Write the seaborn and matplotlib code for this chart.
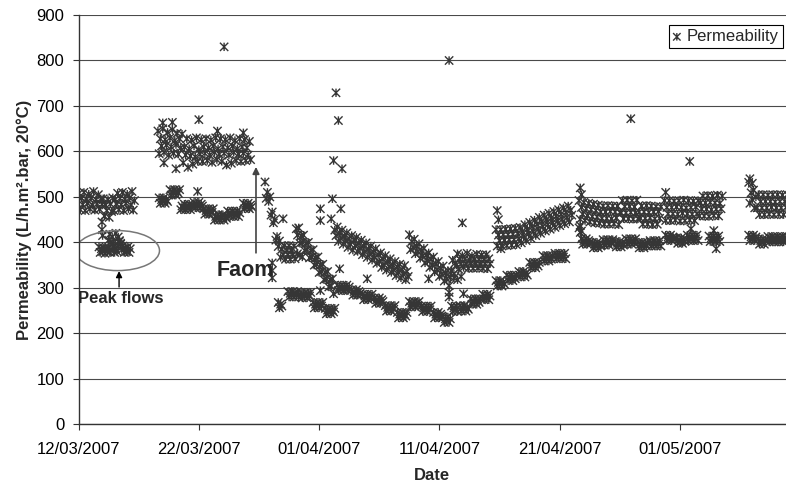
import numpy as np
import pandas as pd
import matplotlib
matplotlib.use("Agg")
import matplotlib.pyplot as plt
import matplotlib.dates as mdates
from matplotlib.path import Path
from matplotlib.markers import MarkerStyle
from matplotlib.patches import Ellipse
import seaborn as sns

# ---------------------------------------------------------------------------
# Permeability log (L/h.m2.bar, corrected to 20 °C)
# Continuous runs are logged every 2.4 h; NaN marks a missing reading.
# ---------------------------------------------------------------------------
START = pd.Timestamp("2007-03-12")
STEP_HOURS = 2.4

nan = np.nan

# main operating band
run_a = [508, 472, 497, 483, 510, 470, 495, 486, 506, 474, 498, 482, 512, 471, 494,
         485, 505, 473, 496, 484,
         496, 458, 482, 470, 494, 455, 485, 468, 498,
         470, 494, 485, 508, 472, 497, 483, 510, 470, 495, 486, 506, 474, 498, 482,
         512, 471, 492]
run_b = [645, 595, 628, 612, 650, 598, 626, 614, 642, 592, 630, 610, 648, 596, 624,
         615, 640, 594, 628, 608, 638,
         575, 610, 592, 628, 565, 606, 590, 625, 572, 612, 588, 630, 578, 604,
         594, 626, 578, 610, 596, 628, 580, 608, 592, 625, 576, 612, 598, 630, 582,
         606, 594, 628, 578, 610, 596, 626, 570, 608, 592, 630, 574, 612, 598, 624,
         580, 606, 594, 628, 578, 610, 596, 626, 580, 608, 592, 622, 582]
run_c = [533, 497, 510, 490, 500, 460, 467, 443, 450, 405, 413, 391, 403, 367, 385,
         373, 393, 363, 383, 373, 393, 363, 383, 373, 392, 364,
         430, 416, 432, 398, 414, 400, 416, 382, 398, 384, 400, 366, 382, 368, 384,
         350, 366, 352, 368, 334, 350, 336, 352, 318, 334, 320, 336, 302, 318, 304,
         320, 287,
         427, 415, 434, 402, 421, 409, 427, 396, 414, 403, 421, 389, 408, 396, 415,
         383, 405, 393, 411, 380, 398, 387, 405, 373, 392, 380, 399, 367, 385, 374,
         392, 361, 379, 367, 386, 354, 373, 358, 377,
         345, 364, 351, 371, 339, 358, 347, 364, 334, 351, 340, 358, 327, 346, 334,
         352, 322, 340, 330, 349, 318, 336, 325,
         417, 384, 402, 389, 407, 375, 392, 380, 397, 365, 382, 370, 387, 355, 372,
         360, 377, 345, 363, 350, 368, 335, 353, 340, 358, 325, 343, 330, 348, 315,
         333, 320, 338, 305, 323,
         337, 361, 331, 355, 350, 375, 341, 363, 353, 371, 345, 363, 353, 376, 343,
         362, 354, 370, 343, 363, 353, 374, 344, 363, 352, 372, 343, 363, 353, 373,
         342, 364, 353]
run_d = [428, 392, 416, 404, 428, 392, 417, 405, 429, 393, 417, 406, 430, 394, 418,
         406, 431, 395, 419,
         408, 433, 399, 424, 413, 439, 404, 429, 419, 444, 409, 435, 424, 449, 415,
         440, 429, 455, 420,
         446, 435, 460, 425, 450, 439, 464, 429, 454, 443, 468, 433, 458, 447, 472,
         437, 462, 451, 476, 441, 466, 455, 480, 445, 471, 460]
run_e1 = [492, 451, 477, 462, 488, 448, 474, 459, 486, 445, 472, 457, 484, 443, 470,
          456, 482, 442,
          467, 453, 480, 440, 467, 453, 481, 440, 468, 452, 480, 441, 467, 454, 480,
          439, 466,
          465, 492, 452, 479, 465, 493, 452, 479, 466, 492, 451, 478, 465, 493, 452,
          467, 453, 480, 440, 467, 453, 481, 440, 466, 454, 480, 439, 467, 452, 479,
          440, 468, 453, 478]
run_e2 = [492, 448, 477, 463, 492, 448, 477, 463, 491, 449, 478, 462, 492, 447, 477,
          464, 493, 448, 476, 463, 492, 449, 477, 462, 491, 448, 478, 463, 492,
          458, 487, 473, 502, 458, 487, 473, 503, 457, 488, 472, 502, 459, 487, 473,
          504, 458, 486, 474, 502]
run_f = [532, 486, 509, 494, 515, 476, 500,
         476, 505, 461, 490, 476, 505, 461, 490, 476, 504, 462, 490, 477, 505, 461,
         489, 476, 505, 462, 490, 476, 504, 461, 490, 477, 505]

# readings taken during the flow peaks (lower band)
low_b = [498, 486, 494, 490, 498, 486, 494, 490,
         nan,
         516, 504, 512, 508, 516, 504, 512, 508, 516,
         472, 480, 476, 484, 472, 480, 476, 484, 472, 480,
         480, 488, 476, 484, 480, 488, 476, 484, 480,
         474, 462, 470, 466, 474, 462, 470, 466, 474,
         449, 457, 453, 461, 449, 457, 453, 461, 449, 457, 453,
         469, 457, 465, 461, 469, 457, 465, 461, 469, 457, 465,
         nan, nan,
         486, 474, 482, 478, 486, 474, 482, 478]
low_c = [268, 256, 264, 260,
         nan, nan, nan, nan,
         292, 280, 288, 284, 292, 280, 288, 284, 292, 280,
         nan,
         290, 278, 286, 282, 290, 278, 286, 282, 290,
         nan,
         268, 256, 264, 260, 268, 256, 264, 260, 268,
         nan,
         255, 243, 251, 247, 255, 243, 251, 247, 255,
         nan,
         306, 294, 302, 298, 306, 294, 302, 298, 306, 294, 302,
         nan,
         296, 284, 292, 288, 296, 284, 292, 288,
         nan,
         286, 274, 282, 278, 286, 274, 282, 278, 286,
         nan,
         278, 266, 274, 270, 278, 266, 274, 270,
         nan,
         261, 249, 257, 253, 261, 249, 257, 253, 261,
         nan,
         246, 234, 242, 238, 246, 234, 242, 238, 246,
         nan,
         270, 258, 266, 262, 270, 258, 266, 262, 270,
         nan,
         260, 248, 256, 252, 260, 248, 256, 252, 260,
         nan,
         246, 234, 242, 238, 246, 234, 242, 238,
         236, 224, 232, 228, 236, 224, 232,
         260, 248, 256, 252, 260, 248,
         nan,
         261, 249, 257, 253, 261, 249, 257, 253,
         nan,
         276, 264, 272, 268, 276, 264, 272, 268, 276,
         nan,
         286, 274, 282, 278, 286, 274, 282]
low_d = [316, 304, 312, 308, 316, 304, 312, 308,
         nan,
         328, 316, 324, 320, 328, 316, 324, 320, 328,
         nan,
         336, 324, 332, 328, 336, 324, 332, 328,
         nan,
         356, 344, 352, 348, 356, 344, 352, 348, 356,
         nan, nan,
         371, 359, 367, 363, 371, 359, 367, 363, 371,
         nan,
         376, 364, 372, 368, 376, 364, 372, 368, 376, 364]
low_e = [432, 422,
         408, 396, 404, 400, 408, 396, 404, 400,
         nan,
         400, 388, 396, 392, 400, 388, 396, 392,
         nan,
         406, 394, 402, 398, 406, 394, 402, 398, 406,
         nan,
         402, 390, 398, 394, 402, 390, 398, 394,
         nan,
         408, 396, 404, 400, 408, 396, 404, 400, 408,
         nan,
         400, 388, 396, 392, 400, 388, 396, 392, 400,
         nan,
         404, 392, 400, 396, 404, 392, 400, 396, 404, 392,
         nan, nan, nan,
         416, 404, 412, 408, 416, 404, 412, 408,
         nan,
         410, 398, 406, 402, 410, 398, 406, 402,
         nan,
         416, 404, 412, 408, 416, 404, 412, 408, 416, 404,
         nan, nan, nan, nan, nan, nan, nan, nan,
         414, 402, 410, 406, 414, 402, 410, 406, 414, 402]
low_f = [416, 404, 412, 408, 416, 404, 412,
         nan,
         408, 396, 404, 400, 408, 396, 404,
         nan,
         413, 401, 409, 405, 413, 401, 409, 405, 413, 401, 409, 405, 413, 401, 409,
         405, 413]

runs = [
    ("2007-03-12 01:12", run_a),
    ("2007-03-18 14:24", run_b),
    ("2007-03-27 12:00", run_c),
    ("2007-04-15 16:48", run_d),
    ("2007-04-22 14:24", run_e1),
    ("2007-04-29 16:48", run_e2),
    ("2007-05-06 16:48", run_f),
    ("2007-03-18 16:48", low_b),
    ("2007-03-28 14:24", low_c),
    ("2007-04-15 16:48", low_d),
    ("2007-04-22 14:24", low_e),
    ("2007-05-06 16:48", low_f),
]

# peak-flow event of 13-16 March (days after START)
peak_days = [1.7, 1.8, 1.9, 2.0, 2.1,
             2.2, 2.3, 2.4, 2.5, 2.6, 2.7,
             2.5, 2.6, 2.7, 2.8, 2.9,
             2.9, 3.0, 3.1, 3.2, 3.3, 3.4, 3.5,
             3.6, 3.7, 3.8, 3.9, 4.0, 4.1, 4.2, 4.3,
             1.95, 1.95, 2.0, 3.1,
             3.3, 3.4, 3.5]
peak_vals = [390, 378, 386, 380, 388,
             376, 386, 380, 388, 378, 384,
             405, 418, 400, 412, 398,
             390, 378, 386, 380, 392, 402, 396,
             384, 392, 378, 388, 380, 390, 378, 386,
             445, 428, 415, 420,
             412, 404, 398]

# isolated readings (days after START)
spike_days = [7.0, 7.8, 10.0, 11.55, 13.7, 12.1, 7.1, 8.1, 9.9,
              16.1, 16.1, 16.1, 17.0, 20.1, 20.1, 20.1,
              21.0, 21.1, 21.2, 21.4, 21.6, 21.7, 21.8, 21.9, 24.0,
              18.2, 18.4, 18.6, 29.1, 30.8, 30.8, 30.8, 31.9, 32.0,
              31.2, 31.5, 31.8,
              34.8, 34.9, 35.1, 41.7, 41.8, 41.7, 41.8, 45.9, 48.8,
              50.8, 50.9, 52.8, 53.0, 55.8, 56.0]
spike_vals = [663, 664, 670, 645, 641, 830, 575, 562, 512,
              355, 338, 322, 452, 474, 448, 294,
              452, 496, 580, 729, 668, 342, 474, 562, 320,
              375, 372, 368, 320, 800, 290, 280, 443, 287,
              322, 318, 325,
              470, 450, 386, 520, 505, 437, 425, 672, 510,
              578, 430, 426, 386, 540, 530]

date_ticks = ["2007-03-12", "2007-03-22", "2007-04-01", "2007-04-11",
              "2007-04-21", "2007-05-01"]
y_ticks = list(range(0, 901, 100))

# ---------------------------------------------------------------------------
frames = []
for start, vals in runs:
    t = pd.Timestamp(start) + pd.to_timedelta(np.arange(len(vals)) * STEP_HOURS, unit="h")
    frames.append(pd.DataFrame({"Date": t, "Permeability": vals}))
for days, vals in [(peak_days, peak_vals), (spike_days, spike_vals)]:
    t = START + pd.to_timedelta(np.array(days), unit="D")
    frames.append(pd.DataFrame({"Date": t, "Permeability": vals}))
df = pd.concat(frames, ignore_index=True).dropna()

sns.set_theme(style="white")
plt.rcParams["font.family"] = ["Liberation Sans", "DejaVu Sans"]

# asterisk marker: vertical bar plus a diagonal cross
star = MarkerStyle(
    Path([(0, -1), (0, 1), (-1, -1), (1, 1), (-1, 1), (1, -1)],
         [Path.MOVETO, Path.LINETO, Path.MOVETO, Path.LINETO, Path.MOVETO, Path.LINETO]),
    fillstyle="none")

fig = plt.figure(figsize=(7.86, 4.83), dpi=100)
ax = fig.add_axes([0.0999, 0.1215, 0.9001, 0.8474])

sns.scatterplot(data=df, x="Date", y="Permeability", marker=star, s=36,
                color="#363636", linewidth=1.0, ax=ax, label="Permeability")


def at(day):
    return mdates.date2num(START + pd.Timedelta(days=day))


ax.set_xlim(at(0), at(58.8))
ax.set_ylim(0, 900)
ax.set_yticks(y_ticks)
ax.set_xticks([mdates.date2num(pd.Timestamp(d)) for d in date_ticks])
ax.xaxis.set_major_formatter(mdates.DateFormatter("%d/%m/%Y"))

ax.yaxis.grid(True, color="#4a4a4a", lw=0.8)
ax.xaxis.grid(False)
ax.set_axisbelow(True)
for side in ["top", "right"]:
    ax.spines[side].set_visible(False)
for side in ["left", "bottom"]:
    ax.spines[side].set_color("#333333")
    ax.spines[side].set_linewidth(1.0)
ax.tick_params(axis="both", which="major", bottom=True, left=True, direction="out",
               length=4.3, width=0.8, color="#333333", labelsize=12,
               labelcolor="black")
ax.tick_params(axis="y", pad=6)
ax.tick_params(axis="x", pad=8.5)

ax.set_xlabel("Date", fontsize=12, fontweight="bold", labelpad=7.5)
ax.set_ylabel("Permeability (L/h.m\u00b2.bar, 20\u00b0C)", fontsize=12,
              fontweight="bold", labelpad=3)

# peak flow marker
ax.add_patch(Ellipse((at(3.24), 382), width=6.98, height=88, fill=False,
                     edgecolor="#777777", lw=1.1))
ax.annotate("", xy=(at(3.37), 337), xytext=(at(3.37), 302),
            arrowprops=dict(arrowstyle="-|>", color="black", lw=1,
                            mutation_scale=9, shrinkA=0, shrinkB=0))
ax.text(at(3.53), 276, "Peak flows", fontsize=12, fontweight="bold",
        ha="center", va="center")

# foaming event
ax.annotate("", xy=(at(14.75), 566), xytext=(at(14.75), 377),
            arrowprops=dict(arrowstyle="-|>", color="#444444", lw=1.2,
                            mutation_scale=10, shrinkA=0, shrinkB=0))
ax.text(at(13.84), 339, "Faom", fontsize=15.5, fontweight="bold",
        ha="center", va="center")

leg = ax.legend(loc="upper right", bbox_to_anchor=(1 - 3 / 707.5, 1 - 10 / 409.3),
                borderaxespad=0, frameon=True, fancybox=False, framealpha=1,
                edgecolor="black", fontsize=12, handlelength=0.5,
                handletextpad=0.35, borderpad=0.25, markerscale=0.9)
leg.get_frame().set_linewidth(0.8)

fig.savefig("out.png", dpi=100)
